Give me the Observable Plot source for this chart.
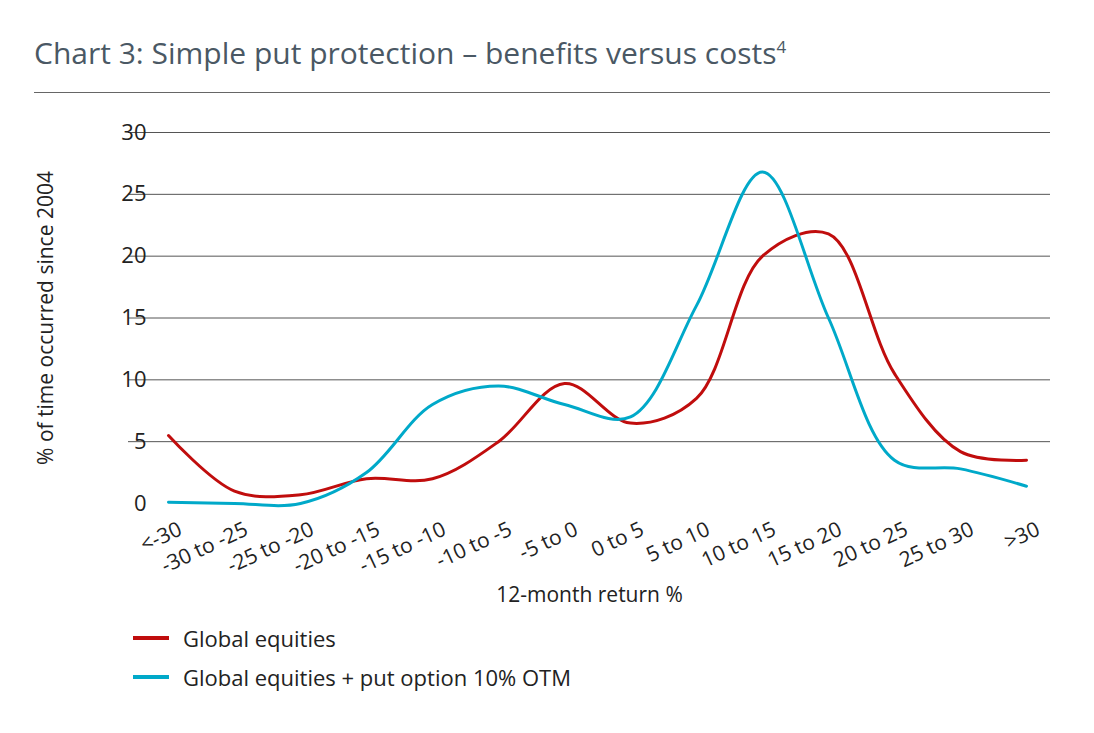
<!DOCTYPE html>
<html><head><meta charset="utf-8">
<script src="https://cdn.jsdelivr.net/npm/d3@7"></script>
<script src="https://cdn.jsdelivr.net/npm/@observablehq/plot@0.6"></script>
<style>
body{margin:0;background:#fff;font-family:"Open Sans",sans-serif;}
#title{position:absolute;left:34px;top:32px;font-size:30px;color:#4a5864;}
#rule{position:absolute;left:34px;top:92px;width:1016px;border-top:1px solid #666;}
#chart{position:absolute;left:0;top:100px;}
#legend{position:absolute;left:133px;top:618px;font-size:22px;color:#222;}
.li{display:flex;align-items:center;height:39px;}
.sw{width:36px;height:4px;margin-right:14px;}
</style></head><body>
<div id="title">Chart 3: Simple put protection – benefits versus costs<sup style="font-size:17px">4</sup></div>
<div id="rule"></div>
<div id="chart"></div>
<div id="legend">
<div class="li"><div class="sw" style="background:#c00d0d"></div>Global equities</div>
<div class="li"><div class="sw" style="background:#00a9c9"></div>Global equities + put option 10% OTM</div>
</div>
<script>
const categories=["<-30","-30 to -25","-25 to -20","-20 to -15","-15 to -10","-10 to -5","-5 to 0","0 to 5","5 to 10","10 to 15","15 to 20","20 to 25","25 to 30",">30"];
const equities=[5.5,1.0,0.7,2.0,2.0,5.0,9.7,6.5,8.5,20,21.8,10.5,4.2,3.5];
const protectedVals=[0.1,0,0,2.5,8,9.5,8,7,16,26.8,15,3.5,2.8,1.4];
const yTicks=[0,5,10,15,20,25,30];
const rows=[];
categories.forEach((c,i)=>{rows.push({c,v:equities[i],s:"eq"});rows.push({c,v:protectedVals[i],s:"put"});});
const chart=Plot.plot({
  width:1094,height:520,marginLeft:128,marginRight:44,marginTop:32,marginBottom:117,
  style:{fontFamily:"Open Sans, sans-serif",fontSize:"21px",color:"#222"},
  x:{type:"point",domain:categories,range:[163,1030],padding:0,label:null},
  y:{domain:[0,30],ticks:yTicks,label:null},
  marks:[
    Plot.ruleY(yTicks.filter(t=>t>0),{stroke:"#555",strokeWidth:1}),
    Plot.axisY({ticks:yTicks,tickSize:0,tickPadding:-12,fontSize:22,textAnchor:"end",dx:6}),
    Plot.axisX({tickSize:0,tickRotate:-25,fontSize:21,textAnchor:"end",dy:12,dx:12}),
    Plot.text(["% of time occurred since 2004"],{frameAnchor:"left",rotate:-90,dx:-82,fontSize:21,textAnchor:"middle"}),
    Plot.text(["12-month return %"],{frameAnchor:"bottom",dy:98,fontSize:21}),
    Plot.line(rows.filter(d=>d.s=="eq"),{x:"c",y:"v",stroke:"#c00d0d",strokeWidth:3,curve:"catmull-rom"}),
    Plot.line(rows.filter(d=>d.s=="put"),{x:"c",y:"v",stroke:"#00a9c9",strokeWidth:3,curve:"catmull-rom"})
  ]
});
document.getElementById("chart").append(chart);
</script></body></html>
